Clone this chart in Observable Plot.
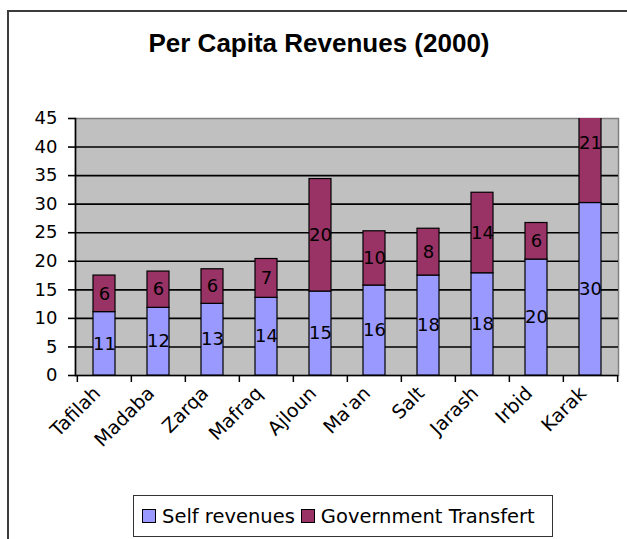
<!DOCTYPE html>
<html>
<head>
<meta charset="utf-8">
<script src="https://cdn.jsdelivr.net/npm/d3@7"></script>
<script src="https://cdn.jsdelivr.net/npm/@observablehq/plot@0.6"></script>
<style>
  html, body { margin: 0; padding: 0; background: #fff; overflow: hidden; }
  #wrap { position: relative; width: 627px; height: 539px; overflow: hidden; }
  #outer { position: absolute; left: 7px; top: 10px; width: 700px; height: 600px; border-left: 2px solid #3c3c3c; border-top: 2px solid #3c3c3c; box-sizing: border-box; }
  #title { position: absolute; left: 0; top: 28px; width: 638px; text-align: center; font: bold 26px/30px "Liberation Sans", Arial, sans-serif; color: #000; }
  #chart { position: absolute; left: 0; top: 0; }
  #legend { position: absolute; left: 133px; top: 495px; width: 420px; height: 42px; box-sizing: border-box; border: 1.5px solid #333; background: #fff; display: flex; align-items: center; padding-left: 8px; font: 19.5px "DejaVu Sans", sans-serif; color: #000; }
  .sw { width: 12px; height: 12px; border: 1px solid #000; margin-right: 6px; flex: none; }
  .item { display: flex; align-items: center; margin-right: 6px; white-space: nowrap; }
</style>
</head>
<body>
<div id="wrap">
  <div id="outer"></div>
  <div id="title"></div>
  <div id="chart"></div>
  <div id="legend"></div>
</div>
<script>
const titleText = "Per Capita Revenues (2000)";
const categories = ["Tafilah", "Madaba", "Zarqa", "Mafraq", "Ajloun", "Ma'an", "Salt", "Jarash", "Irbid", "Karak"];
const seriesNames = ["Self revenues", "Government Transfert"];
const seriesColors = ["#9999ff", "#993366"];
const selfRevenues = [11.1, 11.85, 12.55, 13.6, 14.7, 15.75, 17.5, 17.9, 20.3, 30.2];
const governmentTransfert = [6.4, 6.35, 6.05, 6.8, 19.7, 9.5, 8.2, 14.1, 6.4, 21];
const yTicks = [0, 5, 10, 15, 20, 25, 30, 35, 40, 45];
const gridValues = [0, 5, 10, 15, 20, 25, 30, 35, 40];

const rows = [];
categories.forEach((c, i) => {
  rows.push({cat: c, series: seriesNames[0], value: selfRevenues[i]});
  rows.push({cat: c, series: seriesNames[1], value: governmentTransfert[i]});
});

document.getElementById("title").textContent = titleText;

const W = 627, H = 470, mL = 75, mR = 9, mT = 118, mB = 95;
const bw = (W - mL - mR) / categories.length;

const chart = Plot.plot({
  width: W,
  height: H,
  marginLeft: mL,
  marginRight: mR,
  marginTop: mT,
  marginBottom: mB,
  style: {fontFamily: "'DejaVu Sans', sans-serif", fontSize: "18px", background: "transparent", color: "#000"},
  x: {type: "band", domain: categories, padding: 0, axis: null},
  y: {domain: [0, 45], axis: null},
  color: {domain: seriesNames, range: seriesColors},
  marks: [
    Plot.frame({fill: "#c0c0c0", stroke: "#808080", strokeWidth: 1.5}),
    Plot.ruleY(gridValues, {stroke: "#000", strokeWidth: 1.6}),
    Plot.frame({anchor: "left", stroke: "#000", strokeWidth: 1.6}),
    Plot.axisY({ticks: yTicks, tickSize: 7, tickPadding: 11, fontSize: 18, label: null, stroke: "#000", strokeWidth: 1.6}),
    Plot.axisX({tickSize: 7, tickFormat: () => "", dx: -bw / 2, label: null, stroke: "#000", strokeWidth: 1.5}),
    Plot.axisX({ticks: [categories[categories.length - 1]], tickSize: 7, tickFormat: () => "", dx: bw / 2, label: null, stroke: "#000", strokeWidth: 1.5}),
    Plot.barY(rows, Plot.stackY({x: "cat", y: "value", fill: "series", insetLeft: 16, insetRight: 16, stroke: "#000", strokeWidth: 1.2, clip: true})),
    Plot.text(rows, Plot.stackY({x: "cat", y: "value", z: "series", text: d => String(Math.round(d.value)), fontSize: 18, fill: "#000"})),
    Plot.text(categories, {x: d => d, frameAnchor: "bottom", text: d => d, rotate: -45, textAnchor: "end", lineAnchor: "bottom", dx: -3, dy: 19, fontSize: 19, fill: "#000"})
  ]
});
document.getElementById("chart").appendChild(chart);

const legend = document.getElementById("legend");
seriesNames.forEach((name, i) => {
  const item = document.createElement("div");
  item.className = "item";
  const sw = document.createElement("div");
  sw.className = "sw";
  sw.style.background = seriesColors[i];
  const t = document.createElement("span");
  t.textContent = name;
  item.appendChild(sw);
  item.appendChild(t);
  legend.appendChild(item);
});
</script>
</body>
</html>
